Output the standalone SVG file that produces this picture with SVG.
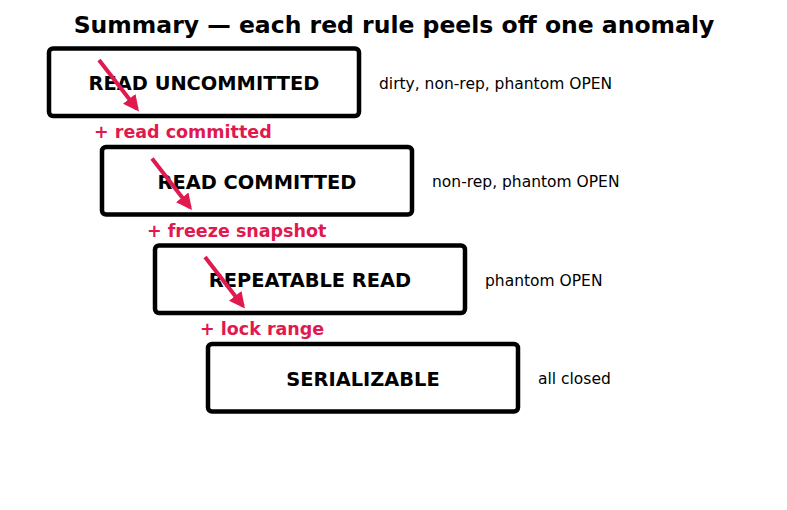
<svg xmlns="http://www.w3.org/2000/svg" width="787" height="510" viewBox="0 0 787 510">
<style>
.box{fill:#fff;stroke:#000;stroke-width:4.5}
.nt{font-family:"DejaVu Sans",sans-serif;font-weight:bold;font-size:19.4px;text-anchor:middle}
.side{font-family:"DejaVu Sans",sans-serif;font-size:15.5px}
.rule{font-family:"DejaVu Sans",sans-serif;font-weight:bold;font-size:17.5px;fill:#e0194f}
.title{font-family:"DejaVu Sans",sans-serif;font-weight:bold;font-size:23.5px;text-anchor:middle}
.arr{stroke:#e0194f;stroke-width:4;fill:none;marker-end:url(#ah)}
</style>
<defs>
<marker id="ah" viewBox="0 0 10 10" refX="8" refY="5" markerWidth="4" markerHeight="4" orient="auto" markerUnits="strokeWidth">
<path d="M0,0 L10,5 L0,10 z" fill="#e0194f"/>
</marker>
</defs>
<rect width="787" height="510" fill="#fff"/>
<text class="title" x="394" y="32.5">Summary — each red rule peels off one anomaly</text>
<g id="n1">
<rect class="box" x="49" y="48.5" width="310" height="67.5" rx="4"/>
<text class="nt" x="204" y="90">READ UNCOMMITTED</text>
<text class="side" x="379" y="88.5">dirty, non-rep, phantom OPEN</text>
</g>
<g id="n2">
<rect class="box" x="102" y="147" width="310" height="67.5" rx="4"/>
<text class="nt" x="257" y="188.5">READ COMMITTED</text>
<text class="side" x="432" y="187">non-rep, phantom OPEN</text>
</g>
<g id="n3">
<rect class="box" x="155" y="245.5" width="310" height="67.5" rx="4"/>
<text class="nt" x="310" y="287">REPEATABLE READ</text>
<text class="side" x="485" y="285.5">phantom OPEN</text>
</g>
<g id="n4">
<rect class="box" x="208" y="344" width="310" height="67.5" rx="4"/>
<text class="nt" x="363" y="385.5">SERIALIZABLE</text>
<text class="side" x="538" y="384">all closed</text>
</g>
<g id="connectors">
<line class="arr" x1="99" y1="60" x2="137" y2="109"/>
<line class="arr" x1="152" y1="158.5" x2="190" y2="207.5"/>
<line class="arr" x1="205" y1="257" x2="243" y2="306"/>
<text class="rule" x="94" y="137.5">+ read committed</text>
<text class="rule" x="147" y="236.5">+ freeze snapshot</text>
<text class="rule" x="200" y="334.5">+ lock range</text>
</g>
</svg>
